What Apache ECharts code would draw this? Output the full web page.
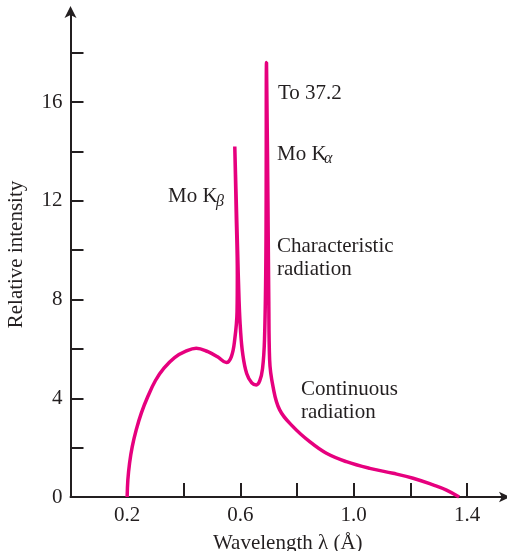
<!DOCTYPE html>
<html>
<head>
<meta charset="utf-8">
<script src="https://cdn.jsdelivr.net/npm/echarts@6/dist/echarts.min.js"></script>
<style>
html,body{margin:0;padding:0;background:#fff;}
#c{width:507px;height:551px;}
</style>
</head>
<body>
<div id="c"></div>
<script>
// Wavelength (Å) and relative intensity
var wavelength = [0.200,0.2025,0.2085,0.218,0.232,0.250,0.273,0.300,0.330,0.3675,0.409,0.444,0.485,0.5205,0.550,0.568,0.580,0.588,0.589,0.585,0.580,0.584,0.590,0.595,0.600,0.608,0.622,0.640,0.656,0.668,0.678,0.685,0.690,0.692,0.697,0.700,0.703,0.715,0.7385,0.7855,0.8445,0.9035,0.974,1.0565,1.139,1.2095,1.280,1.3275,1.372];
var intensity  = [0,0.69,1.37,2.04,2.72,3.40,4.07,4.72,5.22,5.65,5.92,6.03,5.89,5.67,5.45,5.69,6.4,7.5,9,11.5,14.2,12.5,10,8,6.8,5.8,5.0,4.62,4.54,4.7,5.2,6.4,10,17.6,12,8,5.56,4.47,3.53,2.85,2.24,1.77,1.43,1.16,0.96,0.76,0.49,0.28,0];
var xTickLabels = ['0.2','0.6','1.0','1.4'];
var yTickLabels = ['0','4','8','12','16'];

var seriesData = wavelength.map(function(x,i){return [x,intensity[i]];});
var FONT = '"Liberation Serif","Times New Roman",serif';
var INK = '#231f20';

var chart = echarts.init(document.getElementById('c'), null, {renderer:'canvas'});
chart.setOption({
  backgroundColor:'#fff',
  animation:false,
  grid:{left:70.5, right:2, top:12, bottom:54, containLabel:false, outerBoundsMode:'none'},
  xAxis:{
    type:'value', min:0, max:1.534, interval:0.2,
    name:'Wavelength \u03bb (\u00c5)', nameLocation:'middle', nameGap:36,
    nameTextStyle:{fontFamily:FONT, fontSize:21, color:INK},
    axisLine:{show:true, symbol:['none','arrow'], symbolSize:[8,11], symbolOffset:[0,5], lineStyle:{color:INK, width:2}},
    axisTick:{show:true, inside:true, length:14, lineStyle:{color:INK, width:2}},
    axisLabel:{fontFamily:FONT, fontSize:21, color:INK, margin:8, showMaxLabel:false,
      formatter:function(v){var s=v.toFixed(1); return xTickLabels.indexOf(s)>=0?s:'';}},
    splitLine:{show:false}
  },
  yAxis:{
    type:'value', min:0, max:19.65, interval:2,
    name:'Relative intensity', nameLocation:'middle', nameGap:44, nameRotate:90,
    nameTextStyle:{fontFamily:FONT, fontSize:21, color:INK},
    axisLine:{show:true, symbol:['none','arrow'], symbolSize:[9,12], symbolOffset:[0,6], lineStyle:{color:INK, width:2}},
    axisTick:{show:true, inside:true, length:13, lineStyle:{color:INK, width:2}},
    axisLabel:{fontFamily:FONT, fontSize:21, color:INK, margin:8, showMaxLabel:false,
      formatter:function(v){var s=String(Math.round(v)); return yTickLabels.indexOf(s)>=0?s:'';}},
    splitLine:{show:false}
  },
  series:[{
    type:'line', data:seriesData, showSymbol:false, smooth:0.4,
    lineStyle:{color:'#e6007e', width:3.5}, clip:false
  }],
  graphic:[
    {type:'text', left:278, top:83, style:{text:'To 37.2', font:'21px '+FONT, fill:INK}},
    {type:'text', left:277, top:144, style:{text:'Mo K', font:'21px '+FONT, fill:INK}},
    {type:'text', left:324, top:151, style:{text:'\u03b1', font:'italic 16px '+FONT, fill:INK}},
    {type:'text', left:277, top:236, style:{text:'Characteristic', font:'21px '+FONT, fill:INK}},
    {type:'text', left:277, top:259, style:{text:'radiation', font:'21px '+FONT, fill:INK}},
    {type:'text', left:168, top:186, style:{text:'Mo K', font:'21px '+FONT, fill:INK}},
    {type:'text', left:216, top:194, style:{text:'\u03b2', font:'italic 16px '+FONT, fill:INK}},
    {type:'text', left:301, top:379, style:{text:'Continuous', font:'21px '+FONT, fill:INK}},
    {type:'text', left:301, top:402, style:{text:'radiation', font:'21px '+FONT, fill:INK}}
  ]
});
</script>
</body>
</html>
